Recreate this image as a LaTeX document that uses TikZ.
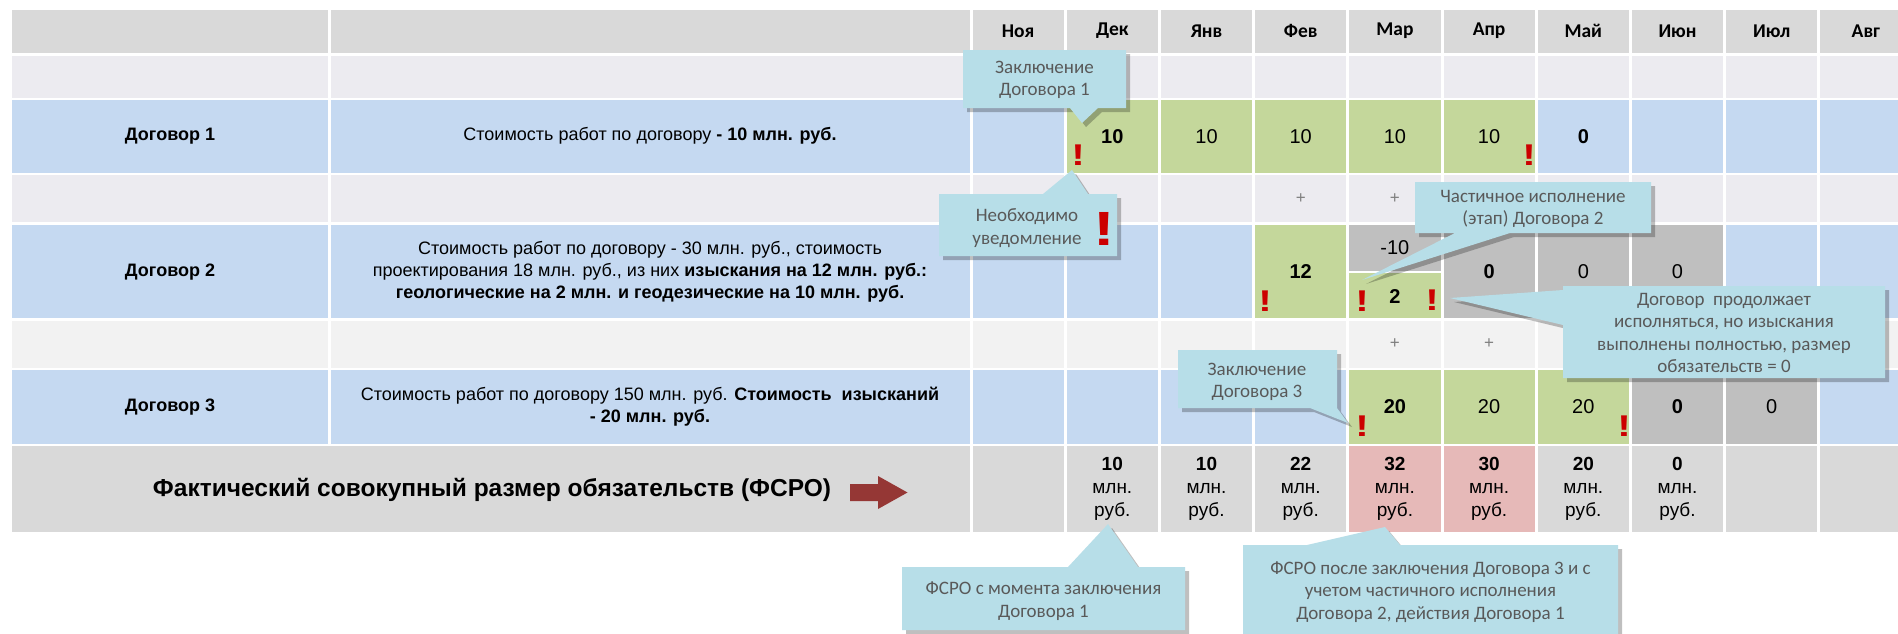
\documentclass[tikz,border=0pt]{standalone}
\usepackage{fontspec}
\setmainfont{Liberation Sans}
\newfontfamily\calfont{Carlito}
\usetikzlibrary{shadows}
\definecolor{hdr}{HTML}{D9D9D9}
\definecolor{lav}{HTML}{ECEBF0}
\definecolor{ltg}{HTML}{F2F2F2}
\definecolor{blu}{HTML}{C5D9F1}
\definecolor{grn}{HTML}{C4D79B}
\definecolor{dgr}{HTML}{BFBFBF}
\definecolor{pnk}{HTML}{E6B9B8}
\definecolor{calfill}{HTML}{B7DEE8}
\definecolor{caltext}{HTML}{595959}
\definecolor{exclc}{HTML}{CC0000}
\definecolor{arrc}{HTML}{953735}
\definecolor{plusc}{HTML}{7F7F7F}
\begin{document}
\begin{tikzpicture}[x=1pt,y=-1pt,
  callout/.style={fill=calfill, drop shadow={shadow xshift=4pt,shadow yshift=-4pt,opacity=0.25,fill=black}},
  caltxt/.style={font=\calfont\fontsize{19}{22.5}\selectfont, text=caltext, align=center, inner sep=0pt},
  hdrtxt/.style={font=\calfont\bfseries\fontsize{19.5}{22}\selectfont, inner sep=0pt},
  lbl/.style={font=\bfseries\fontsize{18}{20}\selectfont, inner sep=0pt},
  desc/.style={font=\fontsize{18}{22}\selectfont, align=center, inner sep=0pt},
  num/.style={font=\fontsize{20}{22}\selectfont, inner sep=0pt},
  bnum/.style={font=\bfseries\fontsize{20}{22}\selectfont, inner sep=0pt},
  tot/.style={font=\fontsize{19}{23}\selectfont, align=center, inner sep=0pt},
  plus/.style={font=\fontsize{17}{20}\selectfont, text=plusc, inner sep=0pt},
  excl/.style={font=\bfseries\fontsize{30}{30}\selectfont, text=exclc, inner sep=0pt, xscale=1.35},
  bigexcl/.style={font=\bfseries\fontsize{48}{48}\selectfont, text=exclc, inner sep=0pt, xscale=1.35},
]
\clip (0,0) rectangle (1898,633);
\fill[white] (0,0) rectangle (1898,633);
% table cells
\foreach \ya/\yb/\c in {10/52.5/hdr, 55.5/97.5/lav, 100/172.5/blu, 175/222/lav, 224.5/318/blu, 320.5/367.5/ltg, 370/443.5/blu}{
  \fill[\c] (12,\ya) rectangle (328,\yb);
  \fill[\c] (331,\ya) rectangle (969.5,\yb);
  \foreach \k in {0,...,9}{
    \fill[\c] ({972.5+94.2*\k},\ya) rectangle ({1063.7+94.2*\k},\yb);
  }
}
\fill[hdr] (12,446) rectangle (969.5,532);
\foreach \k in {0,...,9}{
  \fill[hdr] ({972.5+94.2*\k},446) rectangle ({1063.7+94.2*\k},532);
}
% overrides
\foreach \k in {1,...,5}{\fill[grn] ({972.5+94.2*\k},100) rectangle ({1063.7+94.2*\k},172.5);}
\fill[grn] ({972.5+94.2*3},224.5) rectangle ({1063.7+94.2*3},318);
\fill[white] ({972.5+94.2*4},224.5) rectangle ({1063.7+94.2*4},318);
\fill[dgr] ({972.5+94.2*4},224.5) rectangle ({1063.7+94.2*4},270.5);
\fill[grn] ({972.5+94.2*4},273) rectangle ({1063.7+94.2*4},318);
\foreach \k in {5,6,7}{\fill[dgr] ({972.5+94.2*\k},224.5) rectangle ({1063.7+94.2*\k},318);}
\foreach \k in {4,5,6}{\fill[grn] ({972.5+94.2*\k},370) rectangle ({1063.7+94.2*\k},443.5);}
\foreach \k in {7,8}{\fill[dgr] ({972.5+94.2*\k},370) rectangle ({1063.7+94.2*\k},443.5);}
\foreach \k in {4,5}{\fill[pnk] ({972.5+94.2*\k},446) rectangle ({1063.7+94.2*\k},532);}
% headers
\foreach \k/\m in {0/Ноя,1/Дек,2/Янв,3/Фев,4/Мар,5/Апр,6/Май,7/Июн,8/Июл,9/Авг}{
  \node[hdrtxt] (h\k) at ({1018.1+94.2*\k},31) {\m};
}
% labels
\node[lbl] (lab1) at (170,136) {Договор 1};
\node[lbl] (lab2) at (170,272) {Договор 2};
\node[lbl] (lab3) at (170,407) {Договор 3};
\node[desc] (desc1) at (650,136) {Стоимость работ по договору \textbf{- 10 млн. руб.}};
\node[desc] (desc2) at (650,272) {Стоимость работ по договору - 30 млн. руб., стоимость\\
  проектирования 18 млн. руб., из них \textbf{изыскания на 12 млн. руб.:}\\
  \textbf{геологические на 2 млн. и геодезические на 10 млн. руб.}};
\node[desc] (desc3) at (650,407) {Стоимость работ по договору 150 млн. руб. \textbf{Стоимость\ \ изысканий}\\
  \textbf{- 20 млн. руб.}};
% row 1 numbers
\node[bnum] (n11) at (1112.3,137) {10};
\node[num] (n12) at (1206.5,137) {10};
\node[num] (n13) at (1300.7,137) {10};
\node[num] (n14) at (1394.9,137) {10};
\node[num] (n15) at (1489.1,137) {10};
\node[bnum] (n16) at (1583.3,137) {0};
% row 2 numbers
\node[bnum] (n23) at (1300.7,272) {12};
\node[num] (n24a) at (1394.9,248) {-10};
\node[bnum] (n24b) at (1394.9,297) {2};
\node[bnum] (n25) at (1489.1,272) {0};
\node[num] (n26) at (1583.3,272) {0};
\node[num] (n27) at (1677.5,272) {0};
% row 3 numbers
\node[bnum] (n34) at (1394.9,407) {20};
\node[num] (n35) at (1489.1,407) {20};
\node[num] (n36) at (1583.3,407) {20};
\node[bnum] (n37) at (1677.5,407) {0};
\node[num] (n38) at (1771.7,407) {0};
% plus signs
\node[plus] (p1) at (1300.7,198.5) {+};
\node[plus] (p2) at (1394.9,198.5) {+};
\node[plus] (p3) at (1394.9,344) {+};
\node[plus] (p4) at (1489.1,344) {+};
% totals
\node[font=\bfseries\fontsize{24.5}{27}\selectfont, inner sep=0pt] (ftitle) at (492,490) {Фактический совокупный размер обязательств (ФСРО)};
\fill[arrc] (850,484) -- (878,484) -- (878,476) -- (907.5,492.5) -- (878,509) -- (878,501) -- (850,501) -- cycle;
\foreach \k/\v in {1/10,2/10,3/22,4/32,5/30,6/20,7/0}{
  \node[tot] (t\k) at ({1018.1+94.2*\k},489) {\textbf{\v}\\млн.\\руб.};
}
% exclamation marks
\node[excl] (e1) at (1078,155) {!};
\node[excl] (e2) at (1529,155) {!};
\node[excl] (e3) at (1265,301) {!};
\node[excl] (e4) at (1362,301) {!};
\node[excl] (e5) at (1432,300) {!};
\node[excl] (e6) at (1362,426) {!};
\node[excl] (e7) at (1624,426) {!};
% callouts
\fill[callout] (963,50) -- (1126,50) -- (1126,108) -- (1098,108) -- (1082,123) -- (1070,108) -- (963,108) -- cycle;
\node[caltxt] (c1) at (1044.5,80) {Заключение\\Договора 1};
\fill[callout] (939,194) -- (1043,194) -- (1072,170) -- (1088,194) -- (1117,194) -- (1117,256) -- (939,256) -- cycle;
\node[caltxt] (c2) at (1027,228) {Необходимо\\уведомление};
\node[bigexcl] (c2x) at (1104,229) {!};
\fill[callout] (1415,182) -- (1651,182) -- (1651,233) -- (1510,233) -- (1362,280) -- (1455,233) -- (1415,233) -- cycle;
\node[caltxt] (c3) at (1533,209) {Частичное исполнение\\(этап) Договора 2};
\fill[callout] (1563,286) -- (1885,286) -- (1885,378) -- (1563,378) -- (1563,325) -- (1450,298) -- (1563,290) -- cycle;
\node[caltxt] (c4) at (1724,333) {Договор\ \ продолжает\\исполняться, но изыскания\\выполнены полностью, размер\\обязательств = 0};
\fill[callout] (1178,350) -- (1337,350) -- (1337,408) -- (1348,423) -- (1310,408) -- (1178,408) -- cycle;
\node[caltxt] (c5) at (1257,382) {Заключение\\Договора 3};
\fill[callout] (902,567) -- (1068,567) -- (1108,524) -- (1138,567) -- (1185,567) -- (1185,630) -- (902,630) -- cycle;
\node[caltxt] (c6) at (1043.5,601) {ФСРО с момента заключения\\Договора 1};
\fill[callout] (1243,545) -- (1307,545) -- (1385,527) -- (1400,545) -- (1618,545) -- (1618,645) -- (1243,645) -- cycle;
\node[caltxt] (c7) at (1430.5,592) {ФСРО после заключения Договора 3 и с\\учетом частичного исполнения\\Договора 2, действия Договора 1};
\end{tikzpicture}
\end{document}
